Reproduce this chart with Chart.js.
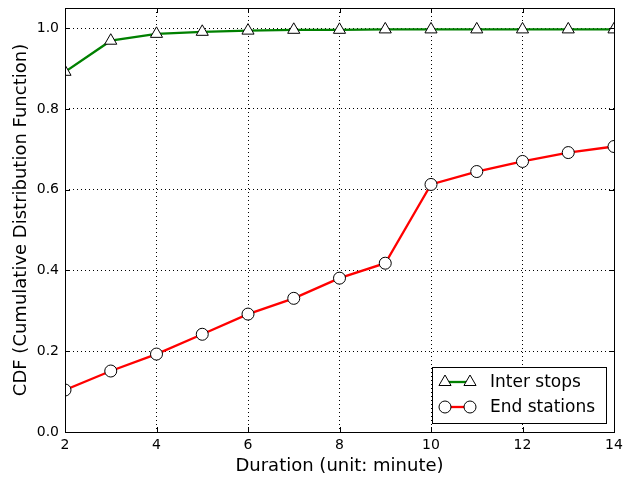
<!DOCTYPE html>
<html>
<head>
<meta charset="utf-8">
<script src="https://cdn.jsdelivr.net/npm/chart.js@4/dist/chart.umd.min.js"></script>
<style>
  html, body { margin: 0; padding: 0; background: #fff; }
  #wrap { width: 625px; height: 481px; }
</style>
</head>
<body>
<div id="wrap"><canvas id="cdf"></canvas></div>
<script>
// durations in minutes
const durations = [2, 3, 4, 5, 6, 7, 8, 9, 10, 11, 12, 13, 14];
// CDF values
const interStops   = [0.892, 0.969, 0.986, 0.991, 0.994, 0.996, 0.996, 0.997, 0.997, 0.997, 0.997, 0.997, 0.997];
const endStations  = [0.104, 0.151, 0.193, 0.242, 0.292, 0.331, 0.381, 0.418, 0.613, 0.645, 0.670, 0.692, 0.707];
const seriesNames  = ['Inter stops', 'End stations'];
const xTicks = [2, 4, 6, 8, 10, 12, 14];
const yTicks = [0.0, 0.2, 0.4, 0.6, 0.8, 1.0];

const FONT = 'DejaVu Sans';

// ── Frame + inward tick marks (classic matplotlib look) ──
const framePlugin = {
    id: 'frame',
    afterDatasetsDraw(chart) {
        const { ctx, chartArea: a, scales } = chart;
        ctx.save();
        ctx.strokeStyle = '#000';
        ctx.lineWidth = 1;
        ctx.beginPath();
        xTicks.forEach(v => {
            const px = Math.round(scales.x.getPixelForValue(v)) + 0.5;
            ctx.moveTo(px, a.bottom); ctx.lineTo(px, a.bottom - 5);
            ctx.moveTo(px, a.top);    ctx.lineTo(px, a.top + 5);
        });
        yTicks.forEach(v => {
            const py = Math.round(scales.y.getPixelForValue(v)) + 0.5;
            ctx.moveTo(a.left, py);  ctx.lineTo(a.left + 5, py);
            ctx.moveTo(a.right, py); ctx.lineTo(a.right - 5, py);
        });
        ctx.stroke();
        ctx.strokeRect(Math.round(a.left) + 0.5, Math.round(a.top) + 0.5,
                       Math.round(a.right - a.left), Math.round(a.bottom - a.top));
        ctx.restore();
    }
};

// ── Legend box in the lower right corner ──
const legendPlugin = {
    id: 'boxLegend',
    afterDraw(chart) {
        const { ctx, chartArea: a } = chart;
        const w = 174, h = 56;
        const x0 = a.right - 8 - w, y0 = a.bottom - 9 - h;
        ctx.save();
        ctx.fillStyle = '#fff';
        ctx.fillRect(x0, y0, w, h);
        ctx.strokeStyle = '#000';
        ctx.lineWidth = 1;
        ctx.strokeRect(Math.round(x0) + 0.5, Math.round(y0) + 0.5, w, h);
        chart.data.datasets.forEach((ds, i) => {
            const cy = y0 + 15 + i * 25;
            const lx0 = x0 + 13, lx1 = x0 + 38;
            ctx.strokeStyle = ds.borderColor;
            ctx.lineWidth = ds.borderWidth;
            ctx.beginPath(); ctx.moveTo(lx0, cy); ctx.lineTo(lx1, cy); ctx.stroke();
            [lx0, lx1].forEach(mx => {
                ctx.fillStyle = '#fff';
                ctx.strokeStyle = '#000';
                ctx.lineWidth = 1;
                Chart.helpers.drawPoint(ctx, {
                    pointStyle: ds.pointStyle, radius: ds.pointRadius,
                    borderWidth: 1, rotation: 0
                }, mx, cy);
            });
            ctx.fillStyle = '#000';
            ctx.font = `17px ${FONT}`;
            ctx.textBaseline = 'middle';
            ctx.fillText(ds.label, x0 + 58, cy + 1);
        });
        ctx.restore();
    }
};

function toPoints(vals) {
    return durations.map((d, i) => ({ x: d, y: vals[i] }));
}

new Chart(document.getElementById('cdf'), {
    type: 'line',
    data: {
        datasets: [
            {
                label: seriesNames[0],
                data: toPoints(interStops),
                borderColor: '#008000',
                borderWidth: 2.3,
                pointStyle: 'triangle',
                pointRadius: 7,
                pointBackgroundColor: '#fff',
                pointBorderColor: '#000',
                pointBorderWidth: 1,
                tension: 0
            },
            {
                label: seriesNames[1],
                data: toPoints(endStations),
                borderColor: '#ff0000',
                borderWidth: 2.3,
                pointStyle: 'circle',
                pointRadius: 6,
                pointBackgroundColor: '#fff',
                pointBorderColor: '#000',
                pointBorderWidth: 1,
                tension: 0
            }
        ]
    },
    options: {
        responsive: true,
        maintainAspectRatio: false,
        animation: false,
        layout: { padding: { left: 0, right: 11, top: 8, bottom: 0 } },
        plugins: { legend: { display: false }, tooltip: { enabled: false } },
        scales: {
            x: {
                type: 'linear',
                min: 2, max: 14,
                afterBuildTicks: s => { s.ticks = xTicks.map(v => ({ value: v })); },
                afterFit: s => { s.height = 49; s.paddingLeft = 0; s.paddingRight = 0; },
                grid: { color: '#000', lineWidth: 1, drawTicks: false },
                border: { display: false, dash: [1, 3] },
                ticks: { color: '#000', font: { family: FONT, size: 14 }, padding: 5, maxRotation: 0 },
                title: { display: true, text: 'Duration (unit: minute)', color: '#000',
                         font: { family: FONT, size: 18 }, padding: { top: 0, bottom: 4 } }
            },
            y: {
                type: 'linear',
                min: 0, max: 1.05,
                afterBuildTicks: s => { s.ticks = yTicks.map(v => ({ value: v })); },
                afterFit: s => { s.width = 65; s.paddingTop = 0; s.paddingBottom = 0; },
                grid: { color: '#000', lineWidth: 1, drawTicks: false },
                border: { display: false, dash: [1, 3] },
                ticks: { color: '#000', font: { family: FONT, size: 14 }, padding: 6,
                         callback: v => v.toFixed(1) },
                title: { display: true, text: 'CDF (Cumulative Distribution Function)', color: '#000',
                         font: { family: FONT, size: 18 }, padding: { top: 11, bottom: 0 } }
            }
        }
    },
    plugins: [framePlugin, legendPlugin]
});
</script>
</body>
</html>
